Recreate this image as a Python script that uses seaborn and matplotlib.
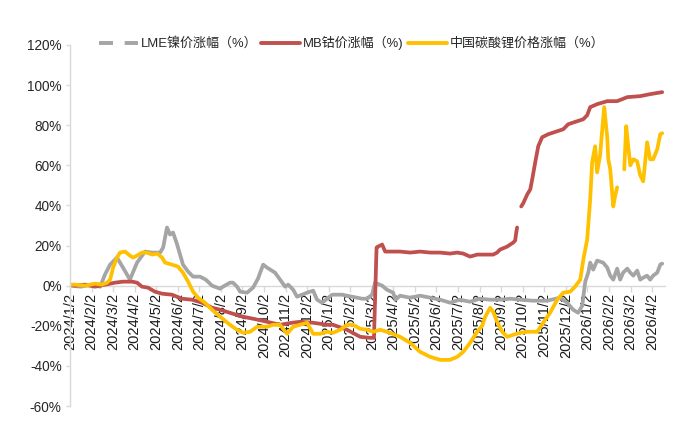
import numpy as np
import pandas as pd
import matplotlib
matplotlib.use("Agg")
import matplotlib.pyplot as plt
import seaborn as sns
from matplotlib.lines import Line2D

# x = months elapsed since 2024/1/2 (category-like monthly axis)
month_labels = [
    "2024/1/2", "2024/2/2", "2024/3/2", "2024/4/2", "2024/5/2", "2024/6/2",
    "2024/7/2", "2024/8/2", "2024/9/2", "2024/10/2", "2024/11/2", "2024/12/2",
    "2025/1/2", "2025/2/2", "2025/3/2", "2025/4/2", "2025/5/2", "2025/6/2",
    "2025/7/2", "2025/8/2", "2025/9/2", "2025/10/2", "2025/11/2", "2025/12/2",
    "2026/1/2", "2026/2/2", "2026/3/2", "2026/4/2",
]
y_ticks = [-60, -40, -20, 0, 20, 40, 60, 80, 100, 120]
series_names = ["LME镍价涨幅（%）", "MB钴价涨幅（%)", "中国碳酸锂价格涨幅（%）"]

nickel_t = [0, 0.5, 1.0, 1.4, 1.62, 1.86, 2.18, 2.46, 2.78, 3.11, 3.48, 3.81, 4.18,
            4.32, 4.50, 4.64, 4.78, 4.97, 5.24, 5.48, 5.71, 6.03, 6.30, 6.59, 6.96,
            7.10, 7.42, 7.56, 7.75, 7.89, 8.21, 8.49, 8.72, 8.96, 9.14, 9.51, 9.98,
            10.12, 10.35, 10.53, 11.00, 11.28, 11.46, 11.69, 12.16, 12.62, 13.09,
            13.55, 13.78, 14.01, 14.15, 14.25, 14.48, 14.70, 14.99, 15.10, 15.31,
            15.78, 16.24, 16.71, 17.17, 17.63, 18.07, 18.56, 19.0, 19.5, 19.95,
            20.42, 20.88, 21.48, 22.13, 22.74, 23.06, 23.34, 23.57, 23.76, 23.90,
            24.04, 24.13, 24.27, 24.45, 24.59, 24.73, 24.92, 25.06, 25.20, 25.38,
            25.52, 25.66, 25.85, 25.99, 26.13, 26.31, 26.45, 26.59, 26.77, 26.91,
            27.05, 27.24, 27.38, 27.47]
nickel_v = [0, -0.5, 0.5, -0.5, 5.5, 10.5, 14, 9, 3, 11.5, 17, 16.5, 16.5,
            19, 29, 25.5, 26.5, 20.5, 10.5, 7, 4.5, 4.5, 3, 0, -1.5,
            -0.5, 1.5, 1.5, -0.5, -3, -3.5, -1, 3.5, 10.5, 9, 6.5, -0.5,
            0.5, -2, -5.5, -3.5, -2.5, -7, -8.5, -4.5, -4.5, -5.5,
            -6.5, -6.5, -4.5, 1.5, 1, 0, -2, -3.5, -7, -5,
            -6, -5, -6, -7, -8.5, -7, -8, -6.5, -7, -7,
            -6.5, -7, -7.5, -7.5, -6, -8.5, -12, -13.5, -10, 2,
            6.5, 11.5, 8, 12.5, 12, 11.5, 9, 5, 3, 8.5,
            3, 6.5, 8.5, 6.5, 5, 7.5, 3, 4, 5, 3,
            5, 6.5, 10.5, 11]

cobalt_t = [0, 0.23, 0.70, 1.16, 1.62, 2.09, 2.46, 2.88, 3.11, 3.34, 3.62, 3.94,
            4.27, 4.73, 5.20, 5.66, 6.13, 6.59, 6.96, 7.56, 8.03, 8.5, 9.14, 9.74,
            10.3, 10.67, 11.28, 11.93, 12.20, 12.85, 13.46, 13.9, 14.10, 14.22,
            14.29, 14.48, 14.62, 14.85, 15.31, 15.78, 16.24, 16.71, 17.17, 17.63,
            17.96, 18.24, 18.56, 18.89, 19.35, 19.63, 19.81, 19.95, 20.28, 20.56,
            20.65, 20.70, 20.74, 20.83, 20.93, 21.02, 21.21, 21.35, 21.44, 21.58,
            21.72, 21.90, 22.18, 22.60, 22.88, 23.11, 23.53, 23.81, 23.99, 24.13,
            24.45, 24.92, 25.38, 25.85, 26.45, 26.91, 27.47]
cobalt_v = [0.5, 0, 0.5, -0.5, 0.5, 1.5, 2, 2, 1.5, -0.5, -1, -3,
            -4, -4.5, -6.5, -7, -8.5, -11, -12, -14, -15.5, -16.5, -18, -19.5,
            -18.5, -18, -18.5, -19.5, -19.5, -22, -25.5, -26, -26, 19,
            19.5, 20.5, 17, 17, 17, 16.5, 17, 16.5, 16.5, 16,
            16.5, 16, 14.5, 15.5, 15.5, 15.5, 16.5, 18, 19.5, 21.5,
            22.5, 26.5, 29, None, 39.5, 41, 45.5, 48, 53, 61.5,
            69.5, 74, 75.5, 77, 78, 80.5, 82, 83, 85, 89,
            90.5, 92, 92, 94, 94.5, 95.5, 96.5]

lithium_t = [0, 0.23, 0.70, 1.16, 1.48, 1.72, 1.86, 2.00, 2.18, 2.32, 2.55, 2.78,
             2.92, 3.11, 3.34, 3.57, 3.81, 4.04, 4.27, 4.41, 4.73, 5.01, 5.24,
             5.48, 5.71, 5.94, 6.26, 6.59, 6.96, 7.42, 7.75, 8.03, 8.35, 8.68,
             9.14, 9.42, 9.74, 10.07, 10.35, 10.67, 11.00, 11.28, 11.60, 11.93,
             12.20, 12.53, 12.85, 13.13, 13.46, 13.78, 14.06, 14.39, 14.85, 15.31,
             15.78, 16.24, 16.71, 17.17, 17.63, 17.96, 18.24, 18.56, 18.89, 19.12,
             19.26, 19.49, 19.63, 19.81, 20.05, 20.28, 20.56, 20.88, 21.21, 21.67,
             21.95, 22.27, 22.60, 22.88, 23.20, 23.43, 23.67, 23.81, 23.99, 24.13,
             24.22, 24.36, 24.45, 24.59, 24.69, 24.78, 24.92, 24.97, 25.06, 25.20,
             25.29, 25.38, 25.55, 25.71, 25.80, 25.89, 25.99, 26.13, 26.31, 26.45,
             26.59, 26.77, 26.91, 27.05, 27.24, 27.38, 27.47]
lithium_v = [0.5, 0.5, 0, 1, 0.5, 1.5, 3, 9, 14, 16.5, 17, 15,
             14, 15, 16.5, 16.5, 15.5, 16, 14, 11.5, 10.5, 9.5, 6.5,
             2, -3, -6, -8.5, -12, -15.5, -19.5, -22, -23.5, -23, -20.5,
             -20.5, -19.5, -19.5, -24, -20.5, -19.5, -18.5, -24, -24, -23,
             -23.5, -22, -19.5, -19.5, -21.5, -22, -23, -22, -23.5, -25.5,
             -28.5, -33, -35.5, -37, -37, -35.5, -33, -28.5, -23, -20,
             -15.5, -11, -13, -18, -23, -25.5, -24.5, -23.5, -23, -23,
             -18.5, -13.5, -7, -3.5, -3, -0.5, 3, 13, 23, 43,
             61.5, 69.5, 56.5, 65, 78, 89, 74, 63, 58, 39.5,
             45, 49, None, 58, 79.5, 70, 60, 63, 62, 55,
             52, 71.5, 63, 63, 68, 75.5, 76]

colors = ["#A5A5A5", "#C0504D", "#FFC000"]


def to_frame(t, v):
    seg, rows = 0, []
    for ti, vi in zip(t, v):
        if vi is None:
            seg += 1
            continue
        rows.append((ti, vi, seg))
    return pd.DataFrame(rows, columns=["t", "v", "seg"])


sns.set_theme(style="white")
plt.rcParams["font.family"] = ["Liberation Sans", "Noto Sans CJK SC", "DejaVu Sans"]
plt.rcParams["axes.unicode_minus"] = False

fig = plt.figure(figsize=(6.76, 4.23), dpi=100)
ax = fig.add_axes([70 / 676, 17 / 423, 595 / 676, 361 / 423])

for (t, v), c in zip([(nickel_t, nickel_v), (cobalt_t, cobalt_v), (lithium_t, lithium_v)], colors):
    df = to_frame(t, v)
    sns.lineplot(data=df, x="t", y="v", units="seg", estimator=None, sort=False,
                 color=c, linewidth=2.7, ax=ax, legend=False)

for s in ["top", "right"]:
    ax.spines[s].set_visible(False)
ax.spines["bottom"].set_position(("data", 0))
ax.spines["left"].set_color("#D9D9D9")
ax.spines["left"].set_linewidth(1.0)
ax.spines["bottom"].set_color("#D9D9D9")
ax.spines["bottom"].set_linewidth(1.0)
ax.spines["bottom"].set_zorder(0.5)

ax.set_xlim(0, 27.6)
ax.set_ylim(-60, 120)
ax.set_xlabel("")
ax.set_ylabel("")
ax.set_xticks(range(len(month_labels)))
ax.set_xticklabels(month_labels)
ax.set_yticks(y_ticks)
ax.set_yticklabels([f"{y}%" for y in y_ticks])

ax.tick_params(axis="x", bottom=True, direction="out", length=4, width=1,
               color="#D9D9D9", pad=1, labelsize=10.5, labelcolor="#1A1A1A",
               labelrotation=90)
ax.tick_params(axis="y", left=True, direction="out", length=3, width=1,
               color="#D9D9D9", pad=3, labelsize=9.8, labelcolor="#262626")
for lab in ax.get_xticklabels():
    lab.set_ha("center")
    lab.set_va("top")
ax.grid(False)

handles = [
    Line2D([], [], color=colors[0], linewidth=2.8, dashes=(3.6, 3.0)),
    Line2D([], [], color=colors[1], linewidth=2.8),
    Line2D([], [], color=colors[2], linewidth=2.8),
]
fig.legend(handles, series_names, loc="center", bbox_to_anchor=(0.520, 0.898),
           ncol=3, frameon=False, handlelength=3.0, columnspacing=0.3,
           handletextpad=0.2, fontsize=9.4)

fig.savefig("out.png", dpi=100)
